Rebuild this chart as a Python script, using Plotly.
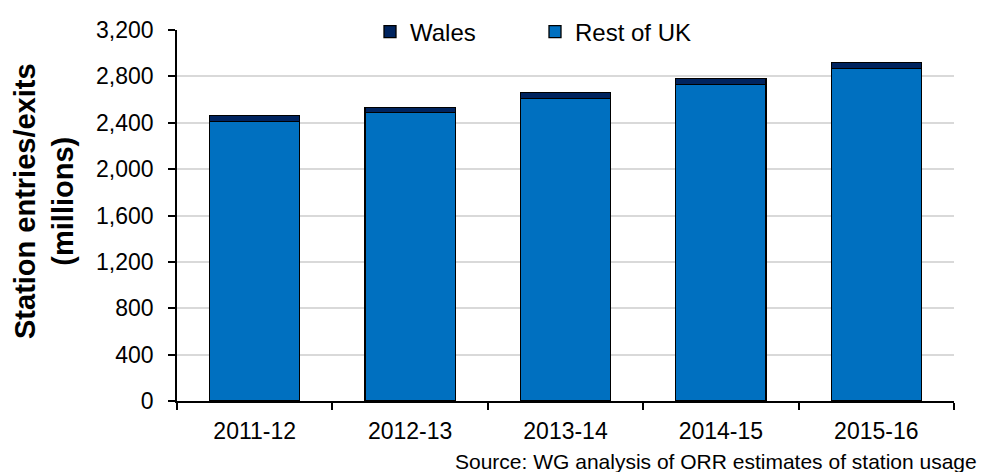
import plotly.graph_objects as go

years = ["2011-12", "2012-13", "2013-14", "2014-15", "2015-16"]
rest_of_uk = [2411, 2491, 2609, 2730, 2866]
wales = [49, 38, 54, 54, 54]
y_ticks = [0, 400, 800, 1200, 1600, 2000, 2400, 2800, 3200]

FONT = "Arial, 'Liberation Sans', sans-serif"

fig = go.Figure()
fig.add_trace(go.Bar(
    x=years, y=rest_of_uk, name="Rest of UK",
    marker=dict(color="#0070C0", line=dict(color="#000000", width=1.3)),
    legend="legend2", showlegend=True,
))
fig.add_trace(go.Bar(
    x=years, y=wales, name="Wales",
    marker=dict(color="#00245F", line=dict(color="#000000", width=1.3)),
    legend="legend", showlegend=True,
))

# the page adds an 8px body margin, so the figure is laid out 8px up/left
OFF = 8
W, H = 985 - OFF, 472 - OFF
L, T = 177 - OFF, 30 - OFF
R = W - (954 - OFF)
B = H - (401 - OFF)
pw = W - L - R
ph = H - T - B

def sx(px):  # screen px -> paper x
    return (px - OFF - L) / pw

def sy(py):  # screen px -> paper y
    return (H - B - (py - OFF)) / ph

fig.update_layout(
    width=W, height=H,
    showlegend=True,
    barmode="stack",
    bargap=0.42,
    plot_bgcolor="white",
    paper_bgcolor="white",
    margin=dict(l=L, r=R, t=T, b=B, autoexpand=False),
    font=dict(family=FONT, size=23, color="#000000"),
    legend=dict(
        orientation="h", x=sx(370), xanchor="left",
        y=sy(32), yanchor="middle", bgcolor="rgba(0,0,0,0)",
        font=dict(size=24), tracegroupgap=0,
    ),
    legend2=dict(
        orientation="h", x=sx(535), xanchor="left",
        y=sy(32), yanchor="middle", bgcolor="rgba(0,0,0,0)",
        font=dict(size=24), tracegroupgap=0,
    ),
    xaxis=dict(
        type="category",
        showline=True, linecolor="#000000", linewidth=1.5,
        ticks="outside", tickson="boundaries", ticklen=7, tickwidth=1.5,
        tickcolor="#000000", showgrid=False,
        tickfont=dict(size=23), ticklabelstandoff=9,
    ),
    yaxis=dict(
        range=[0, 3200], tickvals=y_ticks, tickformat=",",
        showline=True, linecolor="#000000", linewidth=1.5,
        ticks="outside", ticklen=7, tickwidth=1.5, tickcolor="#000000",
        showgrid=True, gridcolor="#D9D9D9", gridwidth=1.5,
        zeroline=False,
        tickfont=dict(size=23), ticklabelstandoff=10,
        automargin=False,
    ),
    annotations=[
        dict(
            text="<b>Station entries/exits<br>(millions)</b>",
            xref="paper", yref="paper", x=sx(44), y=sy(201),
            xanchor="center", yanchor="middle", textangle=-90,
            showarrow=False, font=dict(size=29, color="#000000"),
        ),
        dict(
            text="Source: WG analysis of ORR estimates of station usage",
            xref="paper", yref="paper", x=sx(979), y=sy(461),
            xanchor="right", yanchor="middle", showarrow=False,
            font=dict(size=21, color="#000000"),
        ),
    ],
)

fig.write_html("out.html")
